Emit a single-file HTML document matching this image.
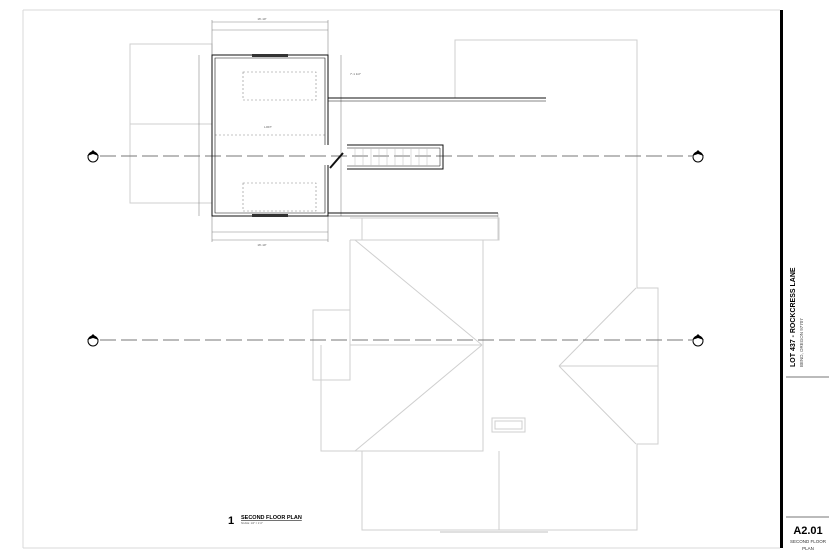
<!DOCTYPE html>
<html><head><meta charset="utf-8"><style>
html,body{margin:0;padding:0;background:#fff;}
svg{display:block;}
text{font-family:"Liberation Sans",sans-serif;}
</style></head><body>
<svg width="840" height="560" viewBox="0 0 840 560" xmlns="http://www.w3.org/2000/svg">
<rect width="840" height="560" fill="#fff"/>
<g stroke="#d8d8d8" stroke-width="1" fill="none">
<line x1="23" y1="10" x2="780" y2="10"/>
<line x1="23" y1="10" x2="23" y2="548"/>
<line x1="23" y1="548" x2="780" y2="548"/>
</g>
<rect x="780" y="10" width="3" height="538" fill="#000"/>
<g stroke="#cfcfcf" stroke-width="1" fill="none">
<rect x="130" y="44" width="82" height="159"/>
<line x1="130" y1="124" x2="212" y2="124"/>
<polyline points="455,98 455,40 637,40 637,288 658,288 658,444 637,444 637,530 362,530 362,451"/>
<polyline points="498,213 498,240 362,240 362,218 350,218"/>
<rect x="362" y="218" width="137" height="22"/>
<polyline points="350,240 483,240 483,451 321,451 321,345"/>
<line x1="350" y1="240" x2="350" y2="310"/>
<rect x="313" y="310" width="37" height="70"/>
<line x1="350" y1="345" x2="482" y2="345"/>
<line x1="355" y1="240" x2="482" y2="345"/>
<line x1="482" y1="345" x2="355" y2="451"/>
<line x1="499" y1="451" x2="499" y2="530"/>
<line x1="636" y1="288" x2="559" y2="366"/>
<line x1="559" y1="366" x2="636" y2="444"/>
<line x1="559" y1="366" x2="658" y2="366"/>
<rect x="492" y="418" width="33" height="14"/>
<rect x="495" y="421" width="27" height="8"/>
<line x1="440" y1="532" x2="548" y2="532" stroke="#e0e0e0" stroke-width="2"/>
</g>
<g stroke="#777" stroke-width="1" stroke-dasharray="16,5" fill="none">
<line x1="100" y1="156" x2="692" y2="156"/>
<line x1="100" y1="340" x2="692" y2="340"/>
</g>
<g stroke="#000" stroke-width="1" fill="#fff">
<circle cx="93" cy="157" r="5"/><circle cx="698" cy="157" r="5"/>
<circle cx="93" cy="341" r="5"/><circle cx="698" cy="341" r="5"/>
</g>
<g fill="#000">
<polygon points="87,156 93,150 99,156 93,154"/><polygon points="692,156 698,150 704,156 698,154"/>
<polygon points="87,340 93,334 99,340 93,338"/><polygon points="692,340 698,334 704,340 698,338"/>
</g>
<g stroke="#888" stroke-width="0.6" fill="none">
<line x1="212" y1="22" x2="328" y2="22"/>
<line x1="212" y1="30" x2="328" y2="30"/>
<line x1="212" y1="232" x2="328" y2="232"/>
<line x1="212" y1="240" x2="328" y2="240"/>
<line x1="199" y1="55" x2="199" y2="216"/>
<line x1="341" y1="55" x2="341" y2="216"/>
<line x1="212" y1="20" x2="212" y2="55"/><line x1="328" y1="20" x2="328" y2="55"/>
<line x1="212" y1="216" x2="212" y2="242"/><line x1="328" y1="216" x2="328" y2="242"/>
<rect x="243" y="72" width="73" height="28" stroke-dasharray="2,2"/>
<rect x="243" y="183" width="73" height="28" stroke-dasharray="2,2"/>
<line x1="215" y1="135" x2="326" y2="135" stroke-dasharray="2,2"/>
</g>
<g font-size="3" fill="#555">
<text x="262" y="20" text-anchor="middle">16'-10"</text>
<text x="262" y="246" text-anchor="middle">16'-10"</text>
<text x="268" y="128" text-anchor="middle">LOFT</text>
<text x="350" y="75">7'-1 1/2"</text>
</g>
<g stroke="#111" stroke-width="1" fill="none">
<polyline points="328,145 328,55 212,55 212,216 328,216 328,165"/>
<polyline points="325,145 325,58 215,58 215,213 325,213 325,165" stroke-width="0.6"/>
<line x1="328" y1="98" x2="546" y2="98"/>
<line x1="328" y1="101" x2="546" y2="101" stroke-width="0.6"/>
<line x1="328" y1="213" x2="498" y2="213"/>
<line x1="328" y1="216" x2="498" y2="216" stroke-width="0.6"/>
<polyline points="347,145 443,145 443,169 347,169"/>
<polyline points="347,148 440,148 440,166 347,166" stroke-width="0.5"/>
</g>
<g stroke="#bbb" stroke-width="0.5">
<line x1="355" y1="148" x2="355" y2="166"/><line x1="363" y1="148" x2="363" y2="166"/><line x1="371" y1="148" x2="371" y2="166"/><line x1="379" y1="148" x2="379" y2="166"/><line x1="387" y1="148" x2="387" y2="166"/><line x1="395" y1="148" x2="395" y2="166"/><line x1="403" y1="148" x2="403" y2="166"/><line x1="411" y1="148" x2="411" y2="166"/><line x1="419" y1="148" x2="419" y2="166"/><line x1="427" y1="148" x2="427" y2="166"/>
</g>
<g fill="#333">
<rect x="252" y="54" width="36" height="3"/>
<rect x="252" y="214" width="36" height="3"/>
</g>
<line x1="330" y1="168" x2="343" y2="153" stroke="#111" stroke-width="2"/>
<text x="228" y="524" font-size="11" font-weight="bold">1</text>
<text x="241" y="519" font-size="5.5" font-weight="bold" text-decoration="underline">SECOND FLOOR PLAN</text>
<text x="241" y="524" font-size="2.5" fill="#555">SCALE: 1/4" = 1'-0"</text>
<text transform="translate(795,367) rotate(-90)" font-size="7" font-weight="bold">LOT 437 - ROCKCRESS LANE</text>
<text transform="translate(803,367) rotate(-90)" font-size="4.5" fill="#444">BEND, OREGON 97707</text>
<line x1="786" y1="377" x2="829" y2="377" stroke="#777" stroke-width="1"/>
<line x1="786" y1="517" x2="829" y2="517" stroke="#777" stroke-width="1"/>
<text x="808" y="534" font-size="11" font-weight="bold" text-anchor="middle">A2.01</text>
<text x="808" y="543" font-size="4.5" text-anchor="middle" fill="#333">SECOND FLOOR</text>
<text x="808" y="550" font-size="4.5" text-anchor="middle" fill="#333">PLAN</text>
</svg>
</body></html>
